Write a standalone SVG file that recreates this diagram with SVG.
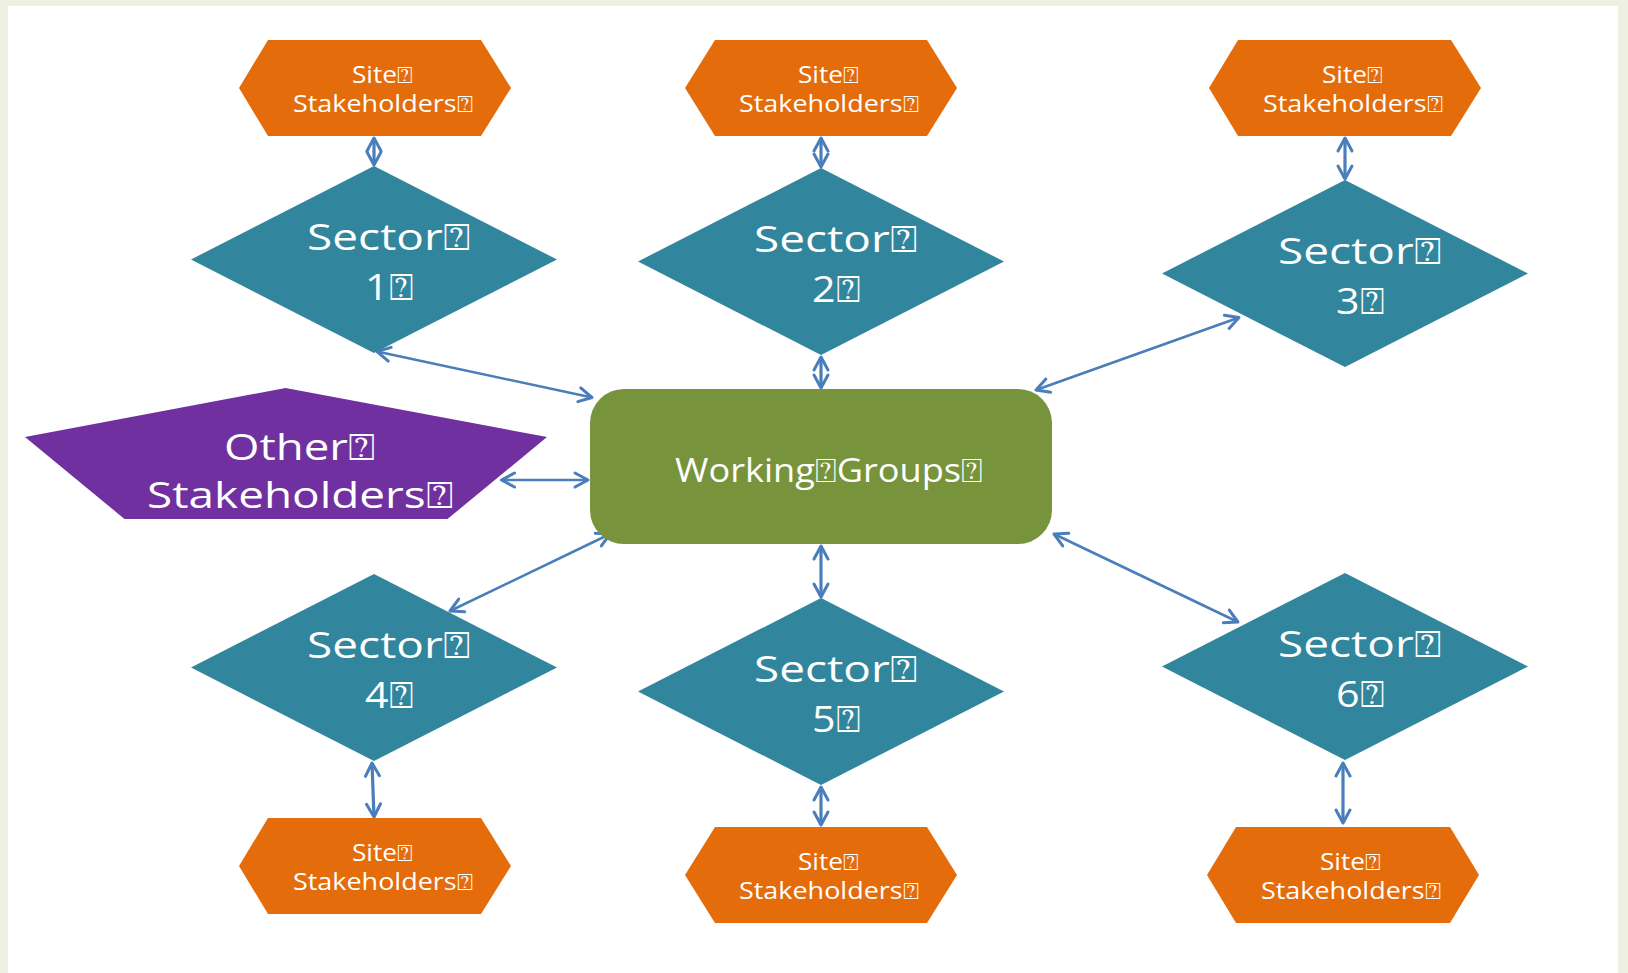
<svg xmlns="http://www.w3.org/2000/svg" width="1628" height="973" viewBox="0 0 1628 973">
  <style>
    .site { fill: #E46C0A; }
    .sector { fill: #31859C; }
    .other { fill: #7030A0; }
    .wg { fill: #77933C; }
    .lbl { fill: #FFFFFF; font-family: "Open Sans", "DejaVu Sans", sans-serif; }
    .sm { font-size: 23px; }
    .lg { font-size: 37px; }
    .md { font-size: 33px; }
    .conn { fill: none; stroke: #4A7EBB; stroke-width: 2.6; marker-start: url(#ah); marker-end: url(#ah); }
    .conn.short { stroke-width: 3.2; }
  </style>
  <defs>
    <marker id="ah" viewBox="-16 -10 20 20" refX="0" refY="0" markerWidth="20" markerHeight="20" markerUnits="userSpaceOnUse" orient="auto-start-reverse">
      <path d="M-13,-7 L0,0 L-13,7" fill="none" stroke="#4A7EBB" stroke-width="3" stroke-linecap="round" stroke-linejoin="round"/>
    </marker>
  </defs>

  <!-- page frame -->
  <rect x="0" y="0" width="1628" height="973" fill="#EEF0E2"/>
  <rect x="8" y="6" width="1610" height="967" fill="#FFFFFF"/>

  <!-- connectors -->
  <g id="connectors">
    <line class="conn short" x1="374" y1="138" x2="374" y2="165"/>
    <line class="conn short" x1="821" y1="138" x2="821" y2="167"/>
    <line class="conn short" x1="1345" y1="138" x2="1345" y2="179"/>
    <line class="conn" x1="377" y1="351.5" x2="592" y2="397.5"/>
    <line class="conn short" x1="821" y1="357" x2="821" y2="388"/>
    <line class="conn" x1="1239" y1="317.5" x2="1036" y2="390"/>
    <line class="conn" x1="501.5" y1="480" x2="588" y2="480"/>
    <line class="conn" x1="610" y1="534" x2="450" y2="611"/>
    <line class="conn short" x1="821" y1="546" x2="821" y2="597"/>
    <line class="conn" x1="1054" y1="534" x2="1238" y2="622"/>
    <line class="conn short" x1="372" y1="763" x2="374" y2="817"/>
    <line class="conn short" x1="821" y1="787" x2="821" y2="825"/>
    <line class="conn short" x1="1343" y1="763" x2="1343" y2="823"/>
  </g>

  <!-- central node -->
  <g id="working-groups">
    <rect class="wg" x="590" y="389" width="462" height="155" rx="34" ry="34"/>
    <text class="lbl md" x="675" y="482" textLength="308" lengthAdjust="spacingAndGlyphs">Working⍰Groups⍰</text>
  </g>

  <g id="other-stakeholders">
    <polygon class="other" points="285.5,388 547,437 447.5,519 124.5,519 25,437"/>
    <text class="lbl lg" x="224" y="460" textLength="151" lengthAdjust="spacingAndGlyphs">Other⍰</text>
    <text class="lbl lg" x="147" y="508" textLength="306" lengthAdjust="spacingAndGlyphs">Stakeholders⍰</text>
  </g>

  <!-- sectors -->
  <g id="sector-1">
    <polygon class="sector" points="374,166 557,259.5 374,353 191,259.5"/>
    <text class="lbl lg" x="307" y="250" textLength="163" lengthAdjust="spacingAndGlyphs">Sector⍰</text>
    <text class="lbl lg" x="365" y="300" textLength="48" lengthAdjust="spacingAndGlyphs">1⍰</text>
  </g>
  <g id="sector-2">
    <polygon class="sector" points="821,168 1004,261.5 821,355 638,261.5"/>
    <text class="lbl lg" x="754" y="252" textLength="163" lengthAdjust="spacingAndGlyphs">Sector⍰</text>
    <text class="lbl lg" x="812" y="302" textLength="48" lengthAdjust="spacingAndGlyphs">2⍰</text>
  </g>
  <g id="sector-3">
    <polygon class="sector" points="1345,180 1528,273.5 1345,367 1162,273.5"/>
    <text class="lbl lg" x="1278" y="264" textLength="163" lengthAdjust="spacingAndGlyphs">Sector⍰</text>
    <text class="lbl lg" x="1336" y="314" textLength="48" lengthAdjust="spacingAndGlyphs">3⍰</text>
  </g>
  <g id="sector-4">
    <polygon class="sector" points="374,574 557,667.5 374,761 191,667.5"/>
    <text class="lbl lg" x="307" y="658" textLength="163" lengthAdjust="spacingAndGlyphs">Sector⍰</text>
    <text class="lbl lg" x="365" y="708" textLength="48" lengthAdjust="spacingAndGlyphs">4⍰</text>
  </g>
  <g id="sector-5">
    <polygon class="sector" points="821,598 1004,691.5 821,785 638,691.5"/>
    <text class="lbl lg" x="754" y="682" textLength="163" lengthAdjust="spacingAndGlyphs">Sector⍰</text>
    <text class="lbl lg" x="812" y="732" textLength="48" lengthAdjust="spacingAndGlyphs">5⍰</text>
  </g>
  <g id="sector-6">
    <polygon class="sector" points="1345,573 1528,666.5 1345,760 1162,666.5"/>
    <text class="lbl lg" x="1278" y="657" textLength="163" lengthAdjust="spacingAndGlyphs">Sector⍰</text>
    <text class="lbl lg" x="1336" y="707" textLength="48" lengthAdjust="spacingAndGlyphs">6⍰</text>
  </g>

  <!-- site stakeholder hexagons -->
  <g id="site-1">
    <polygon class="site" points="239,88 268,40 481,40 511,88 481,136 268,136"/>
    <text class="lbl sm" x="352" y="83" textLength="61" lengthAdjust="spacingAndGlyphs">Site⍰</text>
    <text class="lbl sm" x="293" y="112" textLength="180" lengthAdjust="spacingAndGlyphs">Stakeholders⍰</text>
  </g>
  <g id="site-2">
    <polygon class="site" points="685,88 715,40 927,40 957,88 927,136 715,136"/>
    <text class="lbl sm" x="798" y="83" textLength="61" lengthAdjust="spacingAndGlyphs">Site⍰</text>
    <text class="lbl sm" x="739" y="112" textLength="180" lengthAdjust="spacingAndGlyphs">Stakeholders⍰</text>
  </g>
  <g id="site-3">
    <polygon class="site" points="1209,88 1238,40 1451,40 1481,88 1451,136 1238,136"/>
    <text class="lbl sm" x="1322" y="83" textLength="61" lengthAdjust="spacingAndGlyphs">Site⍰</text>
    <text class="lbl sm" x="1263" y="112" textLength="180" lengthAdjust="spacingAndGlyphs">Stakeholders⍰</text>
  </g>
  <g id="site-4">
    <polygon class="site" points="239,866 268,818 481,818 511,866 481,914 268,914"/>
    <text class="lbl sm" x="352" y="861" textLength="61" lengthAdjust="spacingAndGlyphs">Site⍰</text>
    <text class="lbl sm" x="293" y="890" textLength="180" lengthAdjust="spacingAndGlyphs">Stakeholders⍰</text>
  </g>
  <g id="site-5">
    <polygon class="site" points="685,875 715,827 927,827 957,875 927,923 715,923"/>
    <text class="lbl sm" x="798" y="870" textLength="61" lengthAdjust="spacingAndGlyphs">Site⍰</text>
    <text class="lbl sm" x="739" y="899" textLength="180" lengthAdjust="spacingAndGlyphs">Stakeholders⍰</text>
  </g>
  <g id="site-6">
    <polygon class="site" points="1207,875 1236,827 1450,827 1479,875 1450,923 1236,923"/>
    <text class="lbl sm" x="1320" y="870" textLength="61" lengthAdjust="spacingAndGlyphs">Site⍰</text>
    <text class="lbl sm" x="1261" y="899" textLength="180" lengthAdjust="spacingAndGlyphs">Stakeholders⍰</text>
  </g>
</svg>
